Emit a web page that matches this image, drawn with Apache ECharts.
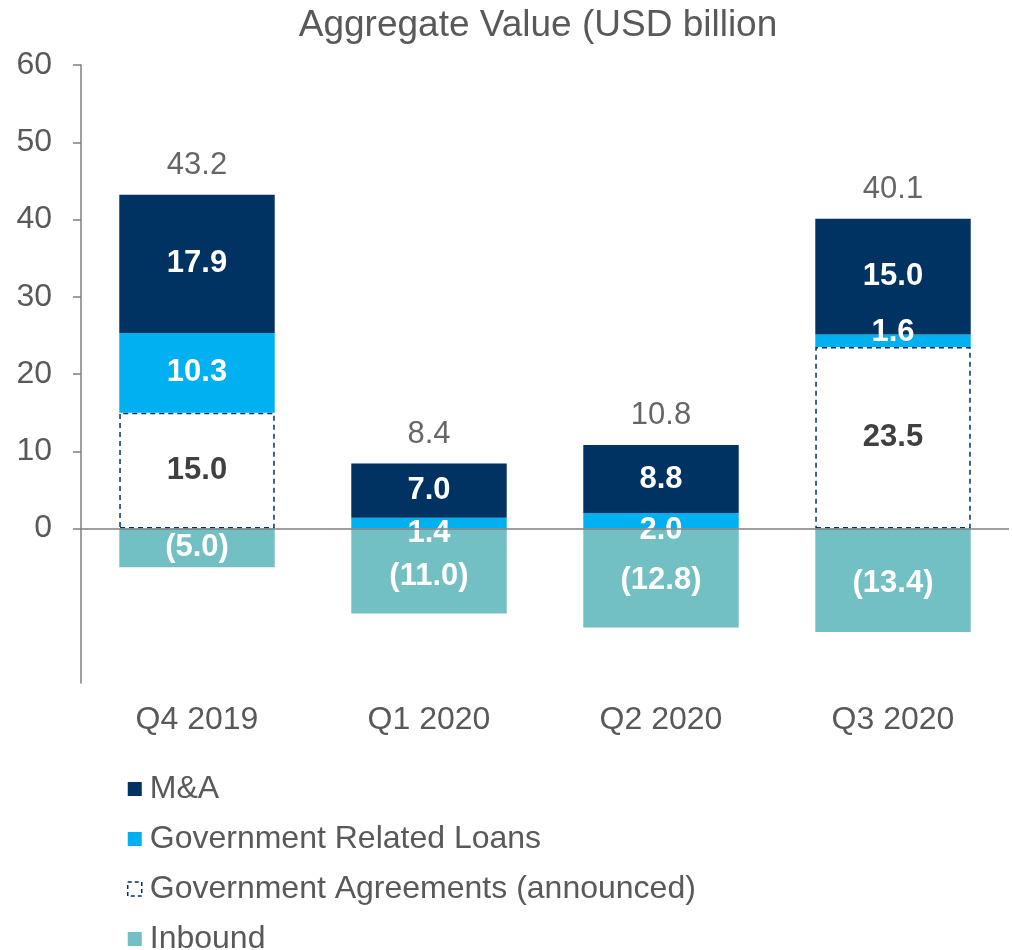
<!DOCTYPE html>
<html>
<head>
    <meta charset="UTF-8">
    <title>Aggregate Value</title>
    <script src="https://cdn.jsdelivr.net/npm/echarts@6/dist/echarts.min.js"></script>
    <style>
        html, body { margin: 0; padding: 0; background: #fff; }
        #main { width: 1012px; height: 950px; }
    </style>
</head>
<body>
<div id="main"></div>
<script>
    // 数据
    var quarters = ['Q4 2019', 'Q1 2020', 'Q2 2020', 'Q3 2020'];
    var mna = [17.9, 7.0, 8.8, 15.0];
    var govLoans = [10.3, 1.4, 2.0, 1.6];
    var govAgreements = [15.0, null, null, 23.5];
    var inbound = [-5.0, -11.0, -12.8, -13.4];
    var totals = [43.2, 8.4, 10.8, 40.1];
    var yTicks = [0, 10, 20, 30, 40, 50, 60];

    // 小数值标签的偏移
    var loanLabelOffsets = [[0, 0], [0, 10], [0, 10], [0, -8]];
    var inboundLabelOffsets = [[0, 0], [0, 5], [0, 3], [0, 3]];

    var navy = '#003262';
    var cyan = '#00B0F0';
    var teal = '#72BFC4';
    var grey = '#595959';
    var font = 'Liberation Sans, Arial, sans-serif';

    var myChart = echarts.init(document.getElementById('main'));

    var whiteLabel = {
        show: true,
        position: 'inside',
        color: '#fff',
        fontWeight: 'bold',
        fontSize: 31,
        fontFamily: font,
        formatter: function (p) { return p.value.toFixed(1); }
    };

    var option = {
        animation: false,
        title: {
            text: 'Aggregate Value (USD billion',
            left: 533,
            top: 2,
            textAlign: 'center',
            textStyle: { color: grey, fontSize: 37, fontWeight: 'normal', fontFamily: font }
        },
        legend: {
            orient: 'vertical',
            left: 122,
            top: 768,
            height: 260,
            icon: 'rect',
            itemWidth: 14,
            itemHeight: 14,
            itemGap: 18,
            data: [
                { name: 'M&A' },
                { name: 'Government Related Loans' },
                { name: 'Government Agreements (announced)', itemStyle: { borderType: [4, 3], borderWidth: 1.5 } },
                { name: 'Inbound' }
            ],
            textStyle: { color: grey, fontSize: 32, fontFamily: font, lineHeight: 32, padding: [0, 0, 0, 3] }
        },
        grid: { left: 81, right: 3, top: 65, bottom: 267 },
        xAxis: {
            type: 'category',
            data: quarters,
            axisLine: { show: false },
            axisTick: { show: false },
            axisLabel: { color: grey, fontSize: 32, fontFamily: font, margin: 21 }
        },
        yAxis: {
            type: 'value',
            min: -20,
            max: 60,
            interval: 10,
            splitLine: { show: false },
            axisLine: { show: true, lineStyle: { color: '#7f7f7f', width: 1.5 } },
            axisTick: { show: true, inside: false, length: 8, customValues: yTicks, lineStyle: { color: '#7f7f7f', width: 1.5 } },
            axisLabel: { color: grey, fontSize: 32, fontFamily: font, margin: 29, customValues: yTicks }
        },
        series: [
            {
                name: 'Government Agreements (announced)',
                type: 'bar',
                stack: 'total',
                barWidth: '67%',
                data: govAgreements,
                itemStyle: { color: '#fff', borderColor: navy, borderWidth: 1.5, borderType: [5, 4] },
                label: {
                    show: true,
                    position: 'inside',
                    color: '#404040',
                    fontWeight: 'bold',
                    fontSize: 31,
                    fontFamily: font,
                    formatter: function (p) { return p.value.toFixed(1); }
                },
                markLine: {
                    silent: true,
                    symbol: 'none',
                    label: { show: false },
                    lineStyle: { color: '#7f7f7f', width: 1.5, type: 'solid' },
                    data: [{ yAxis: 0 }]
                }
            },
            {
                name: 'Government Related Loans',
                type: 'bar',
                stack: 'total',
                data: govLoans.map(function (v, i) {
                    return { value: v, label: { offset: loanLabelOffsets[i] } };
                }),
                itemStyle: { color: cyan },
                label: whiteLabel
            },
            {
                name: 'M&A',
                type: 'bar',
                stack: 'total',
                data: mna,
                itemStyle: { color: navy },
                label: whiteLabel
            },
            {
                name: 'Inbound',
                type: 'bar',
                stack: 'total',
                data: inbound.map(function (v, i) {
                    return { value: v, label: { offset: inboundLabelOffsets[i] } };
                }),
                itemStyle: { color: teal },
                label: {
                    show: true,
                    position: 'inside',
                    color: '#fff',
                    fontWeight: 'bold',
                    fontSize: 31,
                    fontFamily: font,
                    formatter: function (p) { return '(' + Math.abs(p.value).toFixed(1) + ')'; }
                }
            },
            {
                name: 'totals',
                type: 'scatter',
                data: totals,
                symbolSize: 0,
                silent: true,
                label: {
                    show: true,
                    position: 'top',
                    distance: 14,
                    color: '#404040',
                    fontSize: 31,
                    fontFamily: font,
                    formatter: function (p) { return p.value.toFixed(1); }
                }
            }
        ]
    };

    myChart.setOption(option);
</script>
</body>
</html>
